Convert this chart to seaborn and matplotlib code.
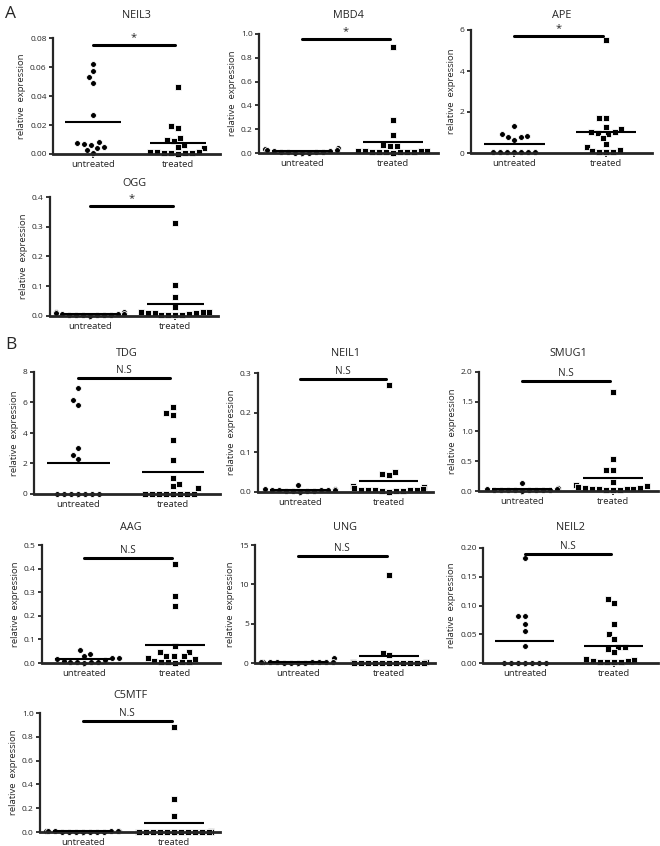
import numpy as np
import pandas as pd
import matplotlib
matplotlib.use("Agg")
import matplotlib.pyplot as plt
from matplotlib.ticker import FormatStrFormatter
import seaborn as sns

groups = ["untreated", "treated"]
genes = ["NEIL3", "MBD4", "APE", "OGG", "TDG", "NEIL1", "SMUG1", "AAG", "UNG", "NEIL2", "C5MTF"]

neil3_untreated = [0.062, 0.057, 0.053, 0.049, 0.027, 0.0085, 0.0075, 0.007, 0.006, 0.0045, 0.004, 0.0025, 0.0005]
neil3_treated = [0.046, 0.019, 0.018, 0.011, 0.0097, 0.009, 0.006, 0.005, 0.004, 0.0014, 0.0014, 0.0014, 0.001, 0.0005, 0.0005, 0.0005, 0.0002]
mbd4_untreated = [0.04, 0.03, 0.025, 0.022, 0.02, 0.015, 0.012, 0.01, 0.008, 0.006, 0.004, 0.003, 0.002]
mbd4_treated = [0.89, 0.28, 0.155, 0.07, 0.056, 0.055, 0.02, 0.02, 0.015, 0.015, 0.01, 0.01, 0.01, 0.01, 0.005, 0.005, 0.003]
ape_untreated = [1.3, 0.94, 0.84, 0.78, 0.76, 0.65, 0.03, 0.03, 0.03, 0.03, 0.03, 0.03, 0.03]
ape_treated = [5.51, 1.7, 1.69, 1.25, 1.17, 1.04, 1.02, 0.97, 0.94, 0.73, 0.44, 0.29, 0.16, 0.08, 0.05, 0.04, 0.03]
ogg_untreated = [0.015, 0.012, 0.01, 0.008, 0.007, 0.006, 0.005, 0.004, 0.004, 0.003, 0.003, 0.002, 0.001]
ogg_treated = [0.314, 0.104, 0.065, 0.03, 0.015, 0.015, 0.012, 0.012, 0.01, 0.01, 0.01, 0.008, 0.005, 0.004, 0.003, 0.002]
tdg_untreated = [6.98, 6.16, 5.86, 3.0, 2.55, 2.27, 0, 0, 0, 0, 0, 0, 0]
tdg_treated = [5.73, 5.34, 5.21, 3.57, 2.2, 1.06, 0.63, 0.5, 0.37, 0, 0, 0, 0, 0, 0, 0, 0]
neil1_untreated = [0.017, 0.008, 0.007, 0.006, 0.006, 0.005, 0.004, 0.004, 0.003, 0.003, 0.002, 0.002, 0.001]
neil1_treated = [0.269, 0.051, 0.045, 0.044, 0.0144, 0.0136, 0.011, 0.008, 0.006, 0.005, 0.005, 0.004, 0.004, 0.003, 0.003, 0.002, 0.001]
smug1_untreated = [0.128, 0.05, 0.04, 0.035, 0.025, 0.02, 0.02, 0.02, 0.015, 0.015, 0.015, 0.01, 0.008]
smug1_treated = [1.67, 0.544, 0.35, 0.35, 0.144, 0.1, 0.09, 0.06, 0.05, 0.05, 0.04, 0.04, 0.03, 0.03, 0.02, 0.02, 0.01]
aag_untreated = [0.054, 0.037, 0.03, 0.021, 0.02, 0.015, 0.012, 0.008, 0.006, 0.005, 0.004, 0.003, 0.002]
aag_treated = [0.421, 0.282, 0.242, 0.073, 0.048, 0.046, 0.031, 0.03, 0.03, 0.021, 0.015, 0.01, 0.006, 0.005, 0.004, 0.003, 0.002]
ung_untreated = [0.67, 0.15, 0.15, 0.12, 0.1, 0.1, 0.09, 0.08, 0.08, 0.06, 0.05, 0.04, 0.03]
ung_treated = [11.25, 1.29, 1.04, 0.1, 0.08, 0.08, 0.06, 0.06, 0.05, 0.05, 0.04, 0.04, 0.03, 0.03, 0.02, 0.02, 0.01]
neil2_untreated = [0.182, 0.081, 0.081, 0.068, 0.056, 0.030, 0, 0, 0, 0, 0, 0, 0]
neil2_treated = [0.112, 0.105, 0.067, 0.050, 0.041, 0.028, 0.028, 0.025, 0.019, 0.0075, 0.0057, 0.003, 0.003, 0.002, 0.002, 0.002, 0.001]
c5mtf_untreated = [0.008, 0.007, 0.006, 0.006, 0.005, 0.005, 0.004, 0.004, 0.004, 0.003, 0.003, 0.002, 0.002]
c5mtf_treated = [0.88, 0.28, 0.137, 0.005, 0.004, 0.004, 0.003, 0.003, 0.003, 0.003, 0.002, 0.002, 0.002, 0.002, 0.001, 0.001, 0.001]

untreated = [neil3_untreated, mbd4_untreated, ape_untreated, ogg_untreated, tdg_untreated, neil1_untreated,
             smug1_untreated, aag_untreated, ung_untreated, neil2_untreated, c5mtf_untreated]
treated = [neil3_treated, mbd4_treated, ape_treated, ogg_treated, tdg_treated, neil1_treated,
           smug1_treated, aag_treated, ung_treated, neil2_treated, c5mtf_treated]

y_max = [0.08, 1.0, 6, 0.4, 8, 0.3, 2.0, 0.5, 15, 0.20, 1.0]
y_step = [0.02, 0.2, 2, 0.1, 2, 0.1, 0.5, 0.1, 5, 0.05, 0.2]
y_fmt = ["%.2f", "%.1f", "%d", "%.1f", "%d", "%.1f", "%.1f", "%.1f", "%d", "%.2f", "%.1f"]
sig_label = ["*", "*", "*", "*", "N.S", "N.S", "N.S", "N.S", "N.S", "N.S", "N.S"]
sig_height = [0.075, 0.955, 5.7, 0.37, 7.6, 0.285, 1.85, 0.445, 13.6, 0.19, 0.93]

W, H = 660, 846
# panel boxes in pixels: left, top, right, bottom
rects = [(53, 38, 220, 154), (259, 34, 438, 153), (471, 30, 652, 153),
         (50, 197, 218, 316),
         (34, 372, 220, 494), (258, 373, 433, 492), (479, 372, 658, 491),
         (42, 545, 220, 663), (255, 545, 435, 663), (483, 548, 658, 663),
         (40, 713, 220, 832)]
title_y = [15, 15, 15, 183, 353, 353, 353, 527, 527, 527, 696]

sns.set_style("ticks")
plt.rcParams["font.family"] = ["Open Sans", "DejaVu Sans"]

fig = plt.figure(figsize=(W / 100, H / 100), dpi=100)

for i, gene in enumerate(genes):
    l, t, r, b = rects[i]
    ax = fig.add_axes([l / W, 1 - b / H, (r - l) / W, (b - t) / H])
    df = pd.DataFrame({
        "group": ["untreated"] * len(untreated[i]) + ["treated"] * len(treated[i]),
        "value": untreated[i] + treated[i],
    })
    for g, m in zip(groups, ["o", "s"]):
        sns.swarmplot(data=df[df.group == g], x="group", y="value", order=groups,
                      marker=m, size=4.2, color="black", edgecolor="white",
                      linewidth=0.6, ax=ax, clip_on=False, zorder=2)
    for j, g in enumerate(groups):
        ax.hlines(df[df.group == g].value.mean(), j - 0.33, j + 0.33,
                  color="black", lw=1.5, zorder=4)

    ax.set_xlim(-0.47, 1.5)
    ax.set_ylim(0, y_max[i])
    ax.set_yticks(np.arange(0, y_max[i] + y_step[i] / 2, y_step[i]))
    ax.yaxis.set_major_formatter(FormatStrFormatter(y_fmt[i]))
    ax.set_xlabel("")
    ax.set_ylabel("relative  expression", fontsize=6.8, labelpad=3)
    ax.tick_params(axis="both", labelsize=6, length=3, width=1.3, pad=1.5)
    ax.tick_params(axis="x", labelsize=6.8)
    sns.despine(ax=ax)
    ax.spines["left"].set_linewidth(1.6)
    ax.spines["bottom"].set_linewidth(2)
    for s in ax.spines.values():
        s.set_zorder(3)

    h = sig_height[i]
    ax.plot([0.0, 0.97], [h, h], color="black", lw=2.2, clip_on=False, zorder=5)
    ax.annotate(sig_label[i], xy=(0.485, h), xytext=(0, 1.5), textcoords="offset points",
                ha="center", va="bottom", fontsize=8 if sig_label[i] == "*" else 7.2)

    fig.text((l + r) / 2 / W, 1 - title_y[i] / H, gene, ha="center", va="center", fontsize=7.8)

fig.text(5 / W, 1 - 14 / H, "A", fontsize=12.5, va="center")
fig.text(5 / W, 1 - 345 / H, "B", fontsize=12.5, va="center")

fig.savefig("out.png", dpi=100)
